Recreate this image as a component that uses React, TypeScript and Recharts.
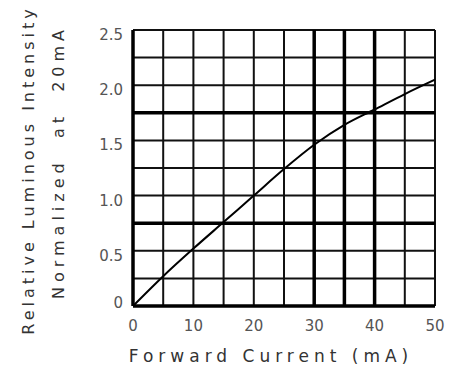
import React from 'react';
import { LineChart, Line, XAxis, YAxis, ReferenceLine } from 'recharts';

// forward current (mA) vs relative luminous intensity, normalized at 20mA
const currents = [0, 5, 10, 15, 20, 25, 30, 35, 40, 45, 50];
const intensity = [0, 0.27, 0.52, 0.76, 1.0, 1.24, 1.46, 1.64, 1.78, 1.92, 2.05];

const xTicks = [0, 10, 20, 30, 40, 50];
const yTicks = [0, 0.5, 1.0, 1.5, 2.0, 2.5];
const gridX = [5, 10, 15, 20, 25, 45, 50];
const gridY = [0.25, 0.5, 1.0, 1.25, 1.5, 2.0, 2.25, 2.5];
const heavyX = [0, 30, 35, 40];
const heavyY = [0, 0.75, 1.75];

const data = currents.map((c, i) => ({ current: c, value: intensity[i] }));

const tickFont = '"DejaVu Sans", sans-serif';

const YTick = (props: any) => {
  const { x, y, payload } = props;
  const v = payload.value;
  const dy = v === 0 ? -3 : 5;
  return (
    <text x={x} y={y + dy} textAnchor="end" dominantBaseline="central"
      fontFamily={tickFont} fontSize={15} fill="#555">
      {v === 0 ? '0' : v.toFixed(1)}
    </text>
  );
};

const XTick = (props: any) => {
  const { x, y, payload } = props;
  return (
    <text x={x} y={y} textAnchor="middle" dominantBaseline="hanging"
      fontFamily={tickFont} fontSize={15} fill="#555">
      {payload.value}
    </text>
  );
};

const XLabel = () => (
  <text x={271} y={356} textAnchor="middle" dominantBaseline="central"
    fontFamily={tickFont} fontSize={17} fill="#333" style={{ letterSpacing: 5, whiteSpace: 'pre' }}>
    {'Forward Current (mA)'}
  </text>
);

const YLabel = () => (
  <g fontFamily={tickFont} fill="#333">
    <text transform="translate(28,170) rotate(-90)" textAnchor="middle" dominantBaseline="central"
      fontSize={16} style={{ letterSpacing: 4, whiteSpace: 'pre' }}>
      {'Relative Luminous Intensity'}
    </text>
    <text transform="translate(58,162) rotate(-90)" textAnchor="middle" dominantBaseline="central"
      fontSize={16} style={{ letterSpacing: 5, whiteSpace: 'pre' }}>
      {'Normalized  at  20mA'}
    </text>
  </g>
);

export default function App() {
  return (
    <div style={{ position: 'absolute', left: 0, top: 0, width: 457, height: 371, background: '#fff' }}>
      <LineChart width={457} height={371} data={data}
        margin={{ top: 30, right: 22, bottom: 35, left: 0 }}>
        <XAxis dataKey="current" type="number" domain={[0, 50]} ticks={xTicks}
          axisLine={false} tickLine={false} tickSize={0} tickMargin={14} height={30}
          tick={<XTick />} label={<XLabel />} interval={0} />
        <YAxis type="number" domain={[0, 2.5]} ticks={yTicks} width={133}
          axisLine={false} tickLine={false} tickSize={0} tickMargin={10}
          tick={<YTick />} label={<YLabel />} interval={0} />
        {gridX.map(v => (
          <ReferenceLine key={'gx' + v} x={v} stroke="#111" strokeWidth={2} />
        ))}
        {gridY.map(v => (
          <ReferenceLine key={'gy' + v} y={v} stroke="#111" strokeWidth={2} />
        ))}
        {heavyX.map(v => (
          <ReferenceLine key={'hx' + v} x={v} stroke="#000" strokeWidth={3.5} />
        ))}
        {heavyY.map(v => (
          <ReferenceLine key={'hy' + v} y={v} stroke="#000" strokeWidth={3.5} />
        ))}
        <Line type="monotone" dataKey="value" stroke="#000" strokeWidth={2}
          dot={false} isAnimationActive={false} />
      </LineChart>
    </div>
  );
}
